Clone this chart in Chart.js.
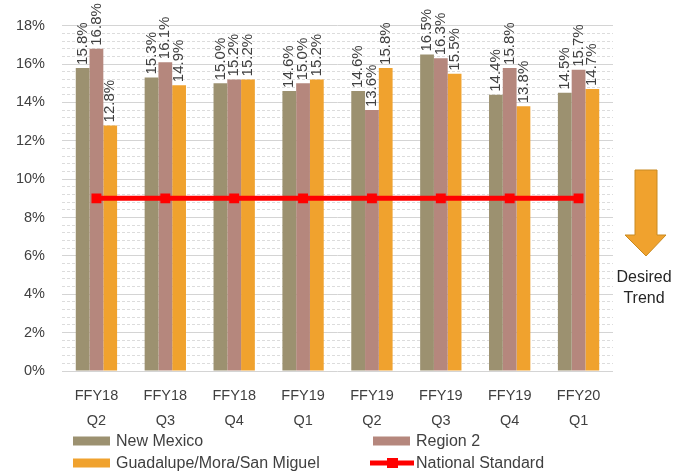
<!DOCTYPE html>
<html>
<head>
<meta charset="utf-8">
<script src="https://cdn.jsdelivr.net/npm/chart.js@4"></script>
<style>
  html, body { margin: 0; padding: 0; background: #fff; }
  #wrap { width: 689px; height: 472px; }
</style>
</head>
<body>
<div id="wrap"><canvas id="myChart" width="689" height="472"></canvas></div>
<script>
// data
var quarters = [["FFY18","Q2"],["FFY18","Q3"],["FFY18","Q4"],["FFY19","Q1"],["FFY19","Q2"],["FFY19","Q3"],["FFY19","Q4"],["FFY20","Q1"]];
var newMexico = [15.8, 15.3, 15.0, 14.6, 14.6, 16.5, 14.4, 14.5];
var region2 = [16.8, 16.1, 15.2, 15.0, 13.6, 16.3, 15.8, 15.7];
var guadalupe = [12.8, 14.9, 15.2, 15.2, 15.8, 15.5, 13.8, 14.7];
var nationalStandard = [9.0, 9.0, 9.0, 9.0, 9.0, 9.0, 9.0, 9.0];
var yTicks = [0, 2, 4, 6, 8, 10, 12, 14, 16, 18];

var FONT = "'Liberation Sans', Arial, sans-serif";
var TEXT = '#404040';

function isMajor(v) {
    return Math.abs(v / 2 - Math.round(v / 2)) < 1e-6;
}

// rotated value labels above the bars
var barLabels = {
    id: 'barLabels',
    afterDatasetsDraw: function (chart) {
        var ctx = chart.ctx;
        chart.data.datasets.forEach(function (ds, i) {
            if (ds.type === 'line') return;
            var meta = chart.getDatasetMeta(i);
            meta.data.forEach(function (bar, j) {
                ctx.save();
                ctx.translate(bar.x, bar.y - 3);
                ctx.rotate(-Math.PI / 2);
                ctx.font = '15px ' + FONT;
                ctx.fillStyle = TEXT;
                ctx.textAlign = 'left';
                ctx.textBaseline = 'middle';
                ctx.fillText(ds.data[j].toFixed(1) + '%', 0, 0);
                ctx.restore();
            });
        });
    }
};

// two column legend under the axis
var gridLegend = {
    id: 'gridLegend',
    afterDraw: function (chart) {
        var ctx = chart.ctx;
        var cols = [73, 373];
        var rows = [441, 463];
        chart.data.datasets.forEach(function (ds, i) {
            var x = cols[i % 2], y = rows[Math.floor(i / 2)];
            ctx.save();
            if (ds.type === 'line') {
                ctx.strokeStyle = ds.borderColor;
                ctx.lineWidth = 5;
                ctx.beginPath();
                ctx.moveTo(x - 3, y);
                ctx.lineTo(x + 41, y);
                ctx.stroke();
                ctx.fillStyle = ds.borderColor;
                ctx.fillRect(x + 14, y - 5, 11, 10);
            } else {
                ctx.fillStyle = ds.backgroundColor;
                ctx.fillRect(x, y - 4.5, 37, 9);
            }
            ctx.font = '16px ' + FONT;
            ctx.fillStyle = TEXT;
            ctx.textBaseline = 'middle';
            ctx.fillText(ds.label, x + 43, y + 1);
            ctx.restore();
        });
    }
};

// "Desired Trend" arrow on the right
var trendArrow = {
    id: 'trendArrow',
    afterDraw: function (chart) {
        var ctx = chart.ctx;
        ctx.save();
        ctx.beginPath();
        ctx.moveTo(635, 170);
        ctx.lineTo(657, 170);
        ctx.lineTo(657, 235);
        ctx.lineTo(666, 235);
        ctx.lineTo(646, 256);
        ctx.lineTo(625, 235);
        ctx.lineTo(635, 235);
        ctx.closePath();
        ctx.fillStyle = '#f0a22e';
        ctx.fill();
        ctx.strokeStyle = '#c88a22';
        ctx.lineWidth = 1;
        ctx.stroke();
        ctx.font = '16px ' + FONT;
        ctx.fillStyle = '#262626';
        ctx.textAlign = 'center';
        ctx.textBaseline = 'middle';
        ctx.fillText('Desired', 644, 278);
        ctx.fillText('Trend', 644, 299);
        ctx.restore();
    }
};

function createChart() {
    var ctx = document.getElementById('myChart').getContext('2d');
    new Chart(ctx, {
        type: 'bar',
        data: {
            labels: quarters,
            datasets: [
                { label: 'New Mexico', data: newMexico, backgroundColor: '#9c9170', order: 1 },
                { label: 'Region 2', data: region2, backgroundColor: '#b5877d', order: 1 },
                { label: 'Guadalupe/Mora/San Miguel', data: guadalupe, backgroundColor: '#f0a22e', order: 1 },
                {
                    type: 'line', label: 'National Standard', data: nationalStandard,
                    borderColor: '#ff0000', backgroundColor: '#ff0000', borderWidth: 5,
                    pointStyle: 'rect', pointRadius: 7, pointHoverRadius: 7,
                    pointBackgroundColor: '#ff0000', pointBorderWidth: 0, order: 0
                }
            ]
        },
        options: {
            responsive: false,
            animation: false,
            layout: { padding: { left: 0, right: 76, top: 23, bottom: 0 } },
            datasets: { bar: { categoryPercentage: 0.6, barPercentage: 1.0, borderWidth: 0 } },
            plugins: { legend: { display: false }, tooltip: { enabled: false } },
            scales: {
                x: {
                    grid: { display: false },
                    border: { display: false },
                    ticks: {
                        padding: 4,
                        color: TEXT,
                        maxRotation: 0,
                        font: { family: FONT, size: 14.5, lineHeight: 1.75 }
                    },
                    afterFit: function (scale) { scale.height = 101; }
                },
                y: {
                    min: yTicks[0],
                    max: yTicks[yTicks.length - 1],
                    border: {
                        display: false,
                        dash: function (c) { return isMajor(c.tick.value) ? [] : [3, 2]; }
                    },
                    grid: {
                        drawTicks: false,
                        lineWidth: 1,
                        color: function (c) { return isMajor(c.tick.value) ? '#d4d4d4' : '#dcdcdc'; }
                    },
                    ticks: {
                        stepSize: 0.4,
                        maxTicksLimit: 100,
                        autoSkip: false,
                        padding: 17,
                        color: TEXT,
                        font: { family: FONT, size: 14.5 },
                        callback: function (v) {
                            return isMajor(v) && yTicks.indexOf(Math.round(v)) >= 0 ? Math.round(v) + '%' : '';
                        }
                    },
                    afterFit: function (scale) { scale.width = 62; }
                }
            }
        },
        plugins: [barLabels, gridLegend, trendArrow]
    });
}
createChart();
</script>
</body>
</html>
